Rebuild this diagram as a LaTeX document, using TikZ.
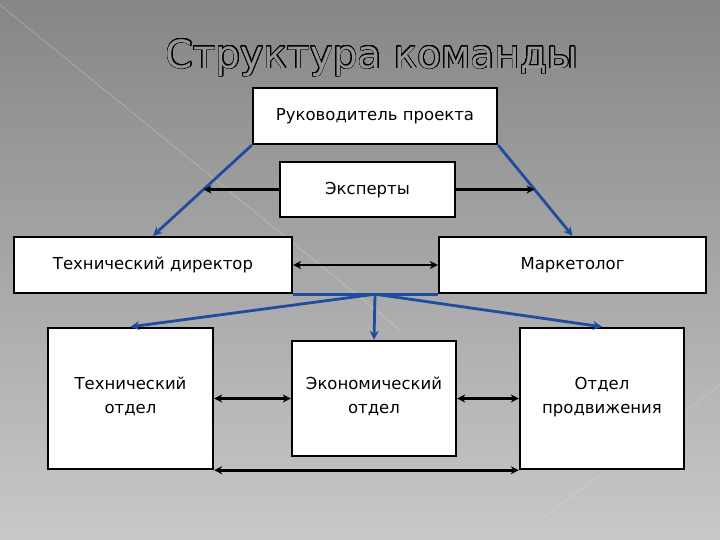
\documentclass[tikz,border=0pt]{standalone}
\usepackage{fontspec}
\setmainfont{DejaVu Sans}
\usepackage[copies]{contour}
\usetikzlibrary{arrows.meta}
\definecolor{bgtop}{RGB}{134,134,134}
\definecolor{bgbot}{RGB}{200,200,200}
\definecolor{titlefill}{RGB}{150,150,150}
\definecolor{blueline}{RGB}{32,76,160}
\contourlength{0.7pt}
\contournumber{32}

\begin{document}
\begin{tikzpicture}[x=1pt, y=-1pt,
    box/.style={draw=black, line width=2.4pt, fill=white, inner sep=0pt, align=center,
                font=\fontsize{16.5}{24}\selectfont, execute at begin node=\strut, execute at end node=\strut},
    both/.style={{Stealth[length=8pt,width=8pt]}-{Stealth[length=8pt,width=8pt]}, line width=2.6pt, black},
    one/.style={-{Stealth[length=8pt,width=8pt]}, line width=2.6pt, black},
    sub/.style={-{Stealth[length=9pt,width=9pt]}, line width=2.8pt, blueline}]
    \useasboundingbox (0,0) rectangle (720,540);
    \shade[top color=bgtop, bottom color=bgbot] (0,0) rectangle (720,540);
    \draw[white, opacity=0.2, line width=1pt] (0,5) -- (400,330);
    \draw[white, opacity=0.15, line width=1pt] (720,385) -- (540,520);
    \node (title) at (372,58) {\fontsize{39}{46}\selectfont\contour{black}{\textcolor{titlefill}{Структура команды}}};
    \node[box, minimum width=244pt, minimum height=56pt] (rp) at (375,116) {Руководитель проекта};
    \node[box, minimum width=175pt, minimum height=55pt] (exp) at (367.5,189.5) {Эксперты};
    \node[box, minimum width=278pt, minimum height=56pt] (td) at (153,265) {Технический директор};
    \node[box, minimum width=267pt, minimum height=56pt] (mk) at (572.5,265) {Маркетолог};
    \node[box, minimum width=165pt, minimum height=141pt] (to) at (130.5,398.5) {Технический\\отдел};
    \node[box, minimum width=164pt, minimum height=115pt] (eo) at (374,398.5) {Экономический\\отдел};
    \node[box, minimum width=164pt, minimum height=141pt] (op) at (602,398.5) {Отдел\\продвижения};
    \draw[sub] (rp.south west) -- (td.north);
    \draw[sub] (rp.south east) -- (mk.north);
    \coordinate (el) at (intersection of rp.south west--td.north and exp.west--exp.east);
    \coordinate (er) at (intersection of rp.south east--mk.north and exp.west--exp.east);
    \draw[one] (exp.west) -- (el);
    \draw[one] (exp.east) -- (er);
    \draw[both] (td) -- (mk);
    \coordinate (hub) at (rp.south |- td.south);
    \draw[blueline, line width=2.8pt] (td.south east) -- (mk.south west);
    \draw[sub] (hub) -- (to.north);
    \draw[sub] (hub) -- (eo.north);
    \draw[sub] (hub) -- (op.north);
    \draw[both] (to) -- (eo);
    \draw[both] (eo) -- (op);
    \draw[both] (to.south east) -- (op.south west);
\end{tikzpicture}
\end{document}
